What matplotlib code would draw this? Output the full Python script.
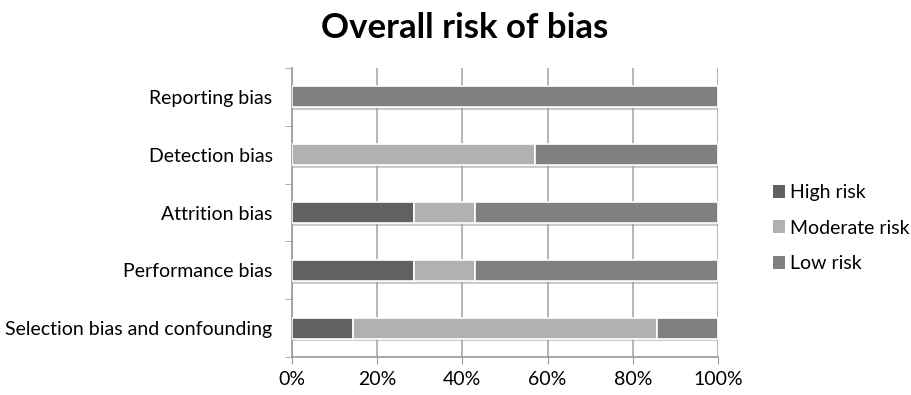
import matplotlib
matplotlib.use("Agg")
import matplotlib.pyplot as plt
import matplotlib.patheffects as pe
from matplotlib.patches import Patch
import numpy as np

categories = ["Selection bias and confounding", "Performance bias", "Attrition bias",
              "Detection bias", "Reporting bias"]
high_risk = [14.3, 28.6, 28.6, 0.0, 0.0]
moderate_risk = [71.4, 14.3, 14.3, 57.1, 0.0]
low_risk = [14.3, 57.1, 57.1, 42.9, 100.0]
series_names = ["High risk", "Moderate risk", "Low risk"]
colors = ["#616161", "#b1b1b1", "#808080"]
xticks = [0, 20, 40, 60, 80, 100]
xtick_labels = ["0%", "20%", "40%", "60%", "80%", "100%"]

plt.rcParams['font.family'] = ['Lato', 'DejaVu Sans']

fig = plt.figure(figsize=(9.11, 3.95), dpi=100)
ax = fig.add_axes([0.3205, 0.096, 0.788 - 0.3205, 0.732])

y = np.arange(len(categories))
left = np.zeros(len(categories))
for vals, name, c in zip([high_risk, moderate_risk, low_risk], series_names, colors):
    ax.barh(y, vals, left=left, height=0.36, color=c, edgecolor="white", linewidth=1.2,
            label=name, zorder=3,
            path_effects=[pe.SimplePatchShadow(offset=(1, -2), shadow_rgbFace="#999999", alpha=0.5), pe.Normal()])
    left += np.array(vals)

ax.set_xlim(0, 100)
ax.set_ylim(-0.5, len(categories) - 0.5)
ax.set_xticks(xticks)
ax.set_xticklabels(xtick_labels, fontsize=14)
ax.set_yticks(y)
ax.set_yticklabels(categories, fontsize=14)
ax.tick_params(axis="y", length=0, pad=14)
ax.set_yticks(np.arange(-0.5, len(categories), 1), minor=True)
ax.tick_params(axis="y", which="minor", length=5, color="#999999")
ax.tick_params(axis="x", length=5, color="#999999", pad=5)
ax.grid(axis="x", color="#a8a8a8", linewidth=1.2, zorder=0)
for s in ["top", "right"]:
    ax.spines[s].set_visible(False)
for s in ["left", "bottom"]:
    ax.spines[s].set_color("#999999")
    ax.spines[s].set_linewidth(1.2)

fig.text(0.51, 0.93, "Overall risk of bias", ha="center", va="center",
         fontsize=25, fontweight="bold")

handles = [Patch(facecolor=c, edgecolor="none") for c in colors]
fig.legend(handles, series_names, loc="center left", bbox_to_anchor=(0.829, 0.422),
           frameon=False, fontsize=14, handlelength=0.65, handleheight=0.65,
           handletextpad=0.25, labelspacing=0.95)

fig.savefig("out.png", dpi=100)
